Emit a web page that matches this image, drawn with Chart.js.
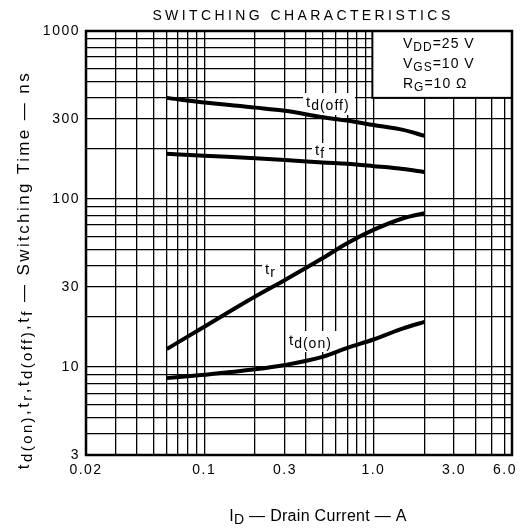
<!DOCTYPE html>
<html>
<head>
<meta charset="utf-8">
<script src="https://cdn.jsdelivr.net/npm/chart.js@4.4.1/dist/chart.umd.min.js"></script>
<style>
html,body{margin:0;padding:0;background:#fff;}
#wrap{width:530px;height:529px;}
</style>
</head>
<body>
<div id="wrap"><canvas id="c" width="530" height="529"></canvas></div>
<script>
// ---- data ----
const drainCurrentA = [0.06, 0.1, 0.2, 0.3, 0.5, 0.7, 1.0, 1.5, 2.0];
const tdOffNs = [400, 375, 350, 335, 307, 293, 276, 258, 238];
const tfNs    = [186, 181, 175, 171, 165, 162, 157, 151, 145];
const trNs    = [12.8, 17.4, 26.3, 33, 44.4, 54.6, 65.5, 76.9, 82.4];
const tdOnNs  = [8.6, 9.0, 9.7, 10.3, 11.5, 13.0, 14.6, 17.0, 18.6];

const xTickValues = [0.02, 0.1, 0.3, 1, 3, 6];
const xTickLabels = ['0.02', '0.1', '0.3', '1.0', '3.0', '6.0'];
const yTickValues = [3, 10, 30, 100, 300, 1000];
const yTickLabels = ['3', '10', '30', '100', '300', '1000'];

const xMin = 0.02, xMax = 6.6;
const yMin = 3, yMax = 1000;

const FONT = '"Liberation Sans", Arial, Helvetica, sans-serif';

function logGrid(min, max) {
  const out = [];
  for (let e = -3; e <= 4; e++) {
    for (let m = 1; m <= 9; m++) {
      const v = +(m * Math.pow(10, e)).toPrecision(6);
      if (v >= min * 0.9999 && v <= max * 1.0001) out.push(v);
    }
  }
  return out;
}
const xGrid = logGrid(xMin, 6);
const yGrid = logGrid(yMin, yMax);

function labelFor(values, labels, v) {
  for (let i = 0; i < values.length; i++) {
    if (Math.abs(values[i] - v) / values[i] < 1e-6) return labels[i];
  }
  return '';
}

function drawRich(ctx, parts, x, y, size, subSize, subDrop, align, spacing) {
  ctx.save();
  ctx.letterSpacing = spacing + 'px';
  ctx.textBaseline = 'alphabetic';
  ctx.textAlign = 'left';
  let w = 0;
  const ws = parts.map(([t, sub]) => {
    ctx.font = (sub ? subSize : size) + 'px ' + FONT;
    const m = ctx.measureText(t).width;
    w += m;
    return m;
  });
  let cx = align === 'center' ? x - w / 2 : align === 'right' ? x - w : x;
  parts.forEach(([t, sub], i) => {
    ctx.font = (sub ? subSize : size) + 'px ' + FONT;
    ctx.fillText(t, cx, y + (sub ? subDrop : 0));
    cx += ws[i];
  });
  ctx.restore();
  return w;
}

const mkSeries = (ys) => drainCurrentA.map((x, i) => ({x: x, y: ys[i]}));

const lineStyle = {
  borderColor: '#000',
  borderWidth: 4,
  pointRadius: 0,
  fill: false,
  tension: 0.4,
  cubicInterpolationMode: 'monotone'
};

const decor = {
  id: 'decor',
  beforeDraw(chart) {
    const ctx = chart.ctx;
    ctx.save();
    ctx.fillStyle = '#fff';
    ctx.fillRect(0, 0, chart.width, chart.height);
    ctx.restore();
    ctx.letterSpacing = '1.5px';
  },
  beforeDatasetsDraw(chart) {
    const ctx = chart.ctx;
    ctx.letterSpacing = '0px';
    ctx.save();
    // curve labels with white backing (under the curves)
    const labels = [
      {parts: [['t', 0], ['d(off)', 1]], x: 306, y: 107, bg: [303, 93, 52, 22]},
      {parts: [['t', 0], ['f', 1]], x: 315, y: 155, bg: [312, 143, 17, 19]},
      {parts: [['t', 0], ['r', 1]], x: 265, y: 274, bg: [262, 262, 18, 18]},
      {parts: [['t', 0], ['d(on)', 1]], x: 289, y: 345, bg: [286, 331, 52, 21]}
    ];
    labels.forEach(l => {
      ctx.fillStyle = '#fff';
      ctx.fillRect(l.bg[0], l.bg[1], l.bg[2], l.bg[3]);
      ctx.fillStyle = '#000';
      drawRich(ctx, l.parts, l.x, l.y, 15, 14, 3, 'left', 1);
    });
    ctx.restore();
  },
  afterDatasetsDraw(chart) {
    const ctx = chart.ctx;
    const a = chart.chartArea;
    const xs = chart.scales.x, ys = chart.scales.y;
    ctx.save();

    // condition box (top right)
    const bx = xs.getPixelForValue(1.0) - 1;
    const by = ys.getPixelForValue(400);
    ctx.fillStyle = '#fff';
    ctx.fillRect(bx, a.top, a.right - bx, by - a.top);
    ctx.strokeStyle = '#000';
    ctx.lineWidth = 2;
    ctx.strokeRect(bx, a.top, a.right - bx, by - a.top);
    ctx.fillStyle = '#000';
    drawRich(ctx, [['V', 0], ['DD', 1], ['=25 V', 0]], 403, 48, 14, 12, 3, 'left', 1);
    drawRich(ctx, [['V', 0], ['GS', 1], ['=10 V', 0]], 403, 68, 14, 12, 3, 'left', 1);
    drawRich(ctx, [['R', 0], ['G', 1], ['=10 \u03A9', 0]], 403, 88, 14, 12, 3, 'left', 1);

    // plot frame
    ctx.strokeStyle = '#000';
    ctx.lineWidth = 2.5;
    ctx.strokeRect(a.left, a.top, a.right - a.left, a.bottom - a.top);

    // chart title
    drawRich(ctx, [['SWITCHING CHARACTERISTICS', 0]], 303, 19.5, 14, 14, 0, 'center', 3.4);

    // x axis title
    drawRich(ctx, [['I', 0], ['D', 1], [' \u2014 Drain Current \u2014 A', 0]], 318, 521, 16, 14, 3, 'center', 0.3);

    // y axis title (rotated)
    ctx.save();
    ctx.translate(29, 270);
    ctx.rotate(-Math.PI / 2);
    drawRich(ctx, [
      ['t', 0], ['d(on)', 1], [',t', 0], ['r', 1], [',t', 0], ['d(off)', 1], [',t', 0], ['f', 1],
      [' \u2014 Switching Time \u2014 ns', 0]
    ], 0, 0, 17, 15, 3, 'center', 2.4);
    ctx.restore();

    ctx.restore();
  }
};

new Chart(document.getElementById('c'), {
  type: 'line',
  data: {
    datasets: [
      Object.assign({label: 'td(off)', data: mkSeries(tdOffNs)}, lineStyle),
      Object.assign({label: 'tf', data: mkSeries(tfNs)}, lineStyle),
      Object.assign({label: 'tr', data: mkSeries(trNs)}, lineStyle),
      Object.assign({label: 'td(on)', data: mkSeries(tdOnNs)}, lineStyle)
    ]
  },
  options: {
    responsive: false,
    animation: false,
    devicePixelRatio: 1,
    layout: {padding: {left: 0, right: 18, top: 31, bottom: 0}},
    plugins: {legend: {display: false}, tooltip: {enabled: false}, title: {display: false}},
    scales: {
      x: {
        type: 'logarithmic',
        min: xMin,
        max: xMax,
        afterBuildTicks(s) { s.ticks = xGrid.map(v => ({value: v})); },
        afterFit(s) { s.height = 74; },
        grid: {color: '#000', lineWidth: 1.3, drawTicks: false},
        border: {display: false},
        ticks: {
          autoSkip: false, maxRotation: 0, minRotation: 0, padding: 7,
          color: '#000', font: {family: FONT, size: 14},
          callback: (v) => labelFor(xTickValues, xTickLabels, v)
        }
      },
      y: {
        type: 'logarithmic',
        min: yMin,
        max: yMax,
        afterBuildTicks(s) { s.ticks = yGrid.map(v => ({value: v})); },
        afterFit(s) { s.width = 86; },
        grid: {color: '#000', lineWidth: 1.3, drawTicks: false},
        border: {display: false},
        ticks: {
          autoSkip: false, padding: 6,
          color: '#000', font: {family: FONT, size: 14},
          callback: (v) => labelFor(yTickValues, yTickLabels, v)
        }
      }
    }
  },
  plugins: [decor]
});
</script>
</body>
</html>
